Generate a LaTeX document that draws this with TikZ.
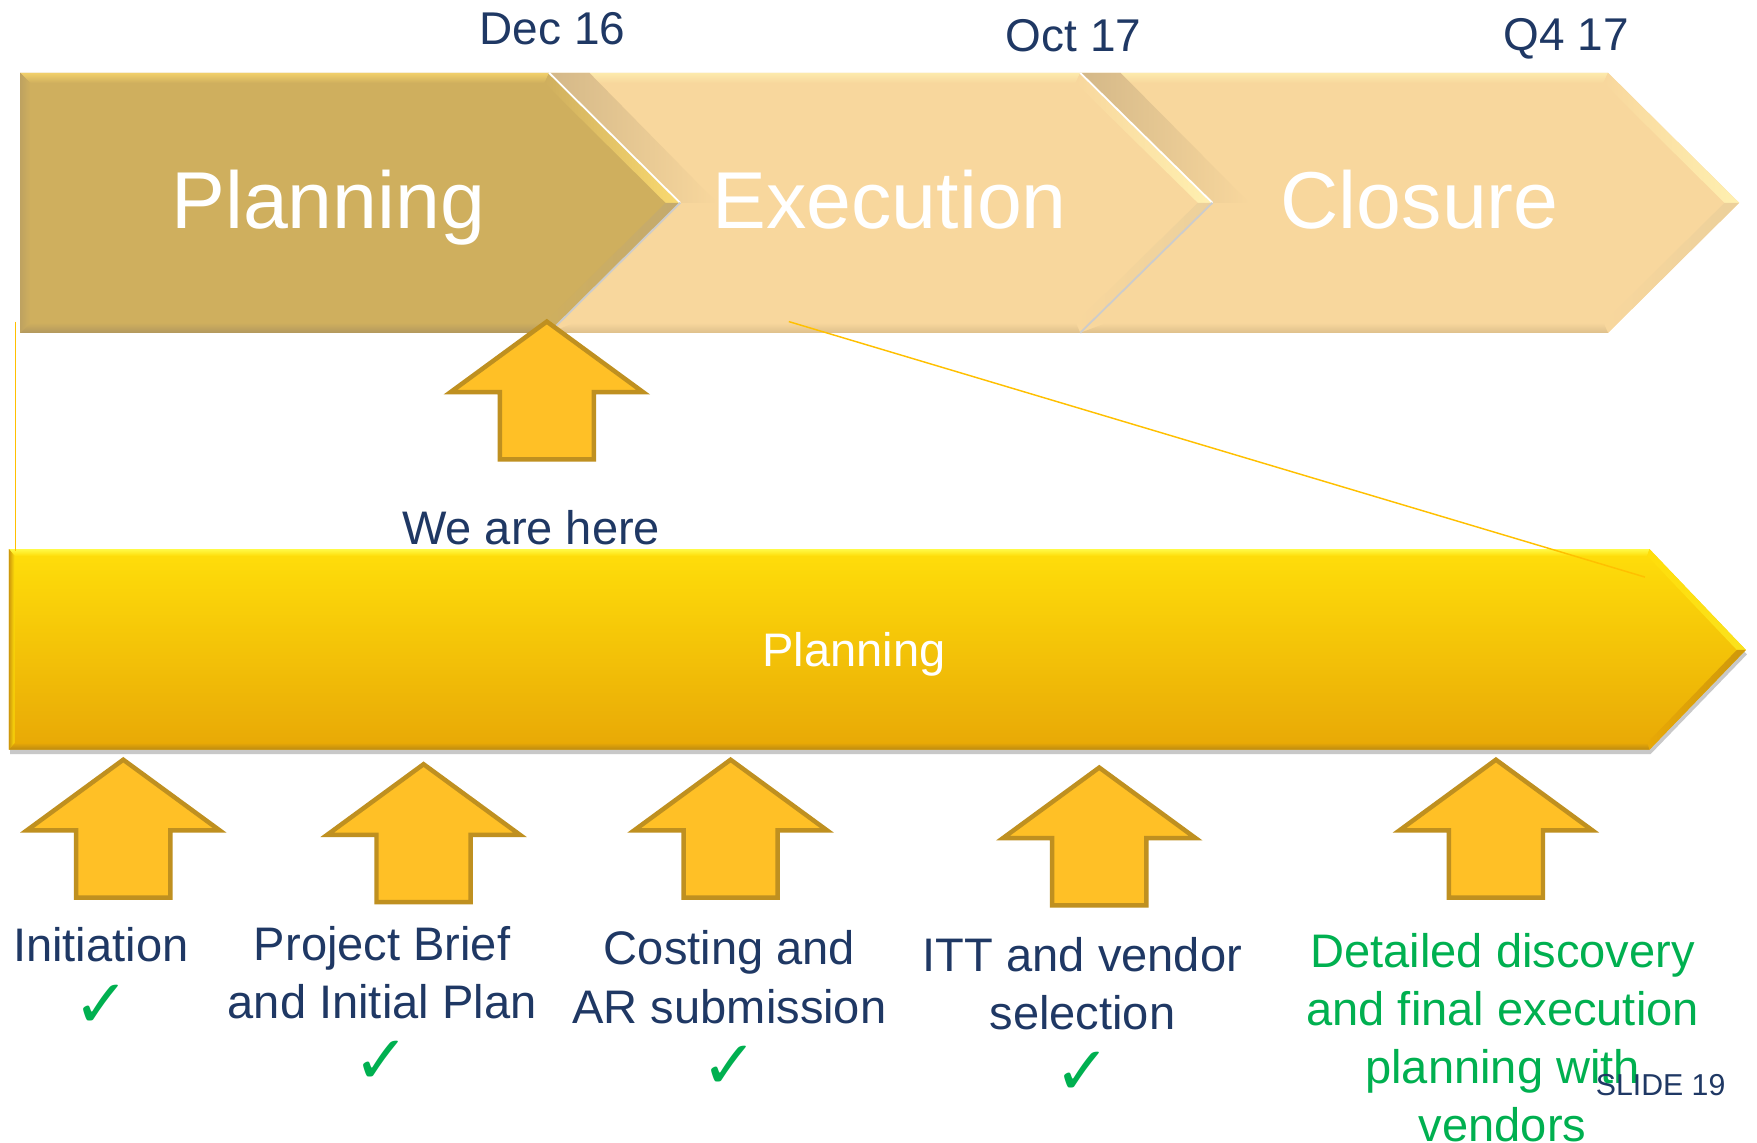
\documentclass[tikz,border=0pt]{standalone}
\usepackage{fontspec}
\setmainfont{Liberation Sans}
\newfontfamily\symfont{DejaVu Sans}
\usetikzlibrary{shadows}

\definecolor{navy}{RGB}{31,56,100}
\definecolor{okgreen}{RGB}{0,176,80}
\definecolor{tanbase}{RGB}{207,175,94}
\definecolor{tanlight}{RGB}{242,208,106}
\definecolor{tanright}{RGB}{250,218,112}
\definecolor{tanlow}{RGB}{196,170,110}
\definecolor{tandark}{RGB}{178,152,94}
\definecolor{tanleft}{RGB}{190,162,96}
\definecolor{peach}{RGB}{248,215,157}
\definecolor{peachlight}{RGB}{253,234,172}
\definecolor{peachright}{RGB}{255,240,176}
\definecolor{peachlow}{RGB}{236,208,155}
\definecolor{peachdark}{RGB}{222,192,140}
\definecolor{peachshadow}{RGB}{212,184,136}
\definecolor{arrfill}{RGB}{255,192,38}
\definecolor{arrdraw}{RGB}{191,144,32}
\definecolor{bartop}{RGB}{255,222,10}
\definecolor{barbot}{RGB}{232,168,6}
\definecolor{barlight}{RGB}{255,250,70}
\definecolor{barright}{RGB}{250,226,30}
\definecolor{barlow}{RGB}{206,152,12}
\definecolor{bardark}{RGB}{188,138,18}
\definecolor{zoomcol}{RGB}{255,192,0}

\newcommand\blockarrow[3]{%
  \draw[arrowbox] (#2,#3) -- ++(86,63) -- ++(-44,0) -- ++(0,60) -- ++(-84,0)
    -- ++(0,-60) -- ++(-44,0) -- cycle;
  \coordinate (#1) at (#2,#3);}

\begin{document}
\begin{tikzpicture}[x=1pt,y=-1pt,
  arrowbox/.style={fill=arrfill, draw=arrdraw, line width=4pt, line join=miter},
  datelbl/.style={text=navy, font=\fontsize{41}{49}\selectfont, inner sep=0pt, anchor=base},
  phase/.style={text=white, font=\fontsize{72}{80}\selectfont, inner sep=0pt, anchor=base},
  lbl/.style={text=navy, font=\fontsize{42}{52}\selectfont, inner sep=0pt, anchor=base},
  glbl/.style={lbl, text=okgreen},
  tick/.style={text=okgreen, font=\symfont\fontsize{60}{64}\selectfont, inner sep=0pt, anchor=base},
  zoomln/.style={draw=zoomcol, line width=1.3pt},
  sepw/.style={draw=white, line width=1.6pt},
  sepg/.style={draw=black!20, line width=1.6pt}
]
\useasboundingbox[fill=white] (0,0) rectangle (1568,1020);

% ---------- Closure chevron ----------
\fill[peach] (964,65) -- (1435,65) -- (1552,181) -- (1435,297) -- (964,297) -- (1082,181) -- cycle;
\shade[top color=peachlight, bottom color=peach] (964,65) -- (1435,65) -- (1431,74) -- (986,74) -- cycle;
\shade[left color=peach, right color=peachright] (1435,65) -- (1552,181) -- (1539,181) -- (1431,74) -- cycle;
\shade[left color=peach, right color=peachlow] (1552,181) -- (1435,297) -- (1431,288) -- (1539,181) -- cycle;
\shade[top color=peach, bottom color=peachdark] (1435,297) -- (964,297) -- (988,288) -- (1431,288) -- cycle;
\shade[left color=peachshadow, right color=peach] (964,65) -- (1082,181) -- (1115,181) -- (1000,65) -- cycle;

% ---------- Execution chevron ----------
\fill[peach] (490,65) -- (964,65) -- (1082,181) -- (964,297) -- (490,297) -- (607,181) -- cycle;
\shade[top color=peachlight, bottom color=peach] (490,65) -- (964,65) -- (960,74) -- (512,74) -- cycle;
\shade[left color=peach, right color=peachright] (964,65) -- (1082,181) -- (1069,181) -- (960,74) -- cycle;
\shade[left color=peach, right color=peachlow] (1082,181) -- (964,297) -- (960,288) -- (1069,181) -- cycle;
\shade[top color=peach, bottom color=peachdark] (964,297) -- (490,297) -- (513,288) -- (960,288) -- cycle;
\shade[left color=peachshadow, right color=peach] (490,65) -- (607,181) -- (640,181) -- (526,65) -- cycle;
\draw[sepw] (964,65) -- (1082,181);
\draw[sepg] (1082,181) -- (964,297);

% ---------- Planning chevron ----------
\fill[tanbase] (18,65) -- (490,65) -- (607,181) -- (490,297) -- (18,297) -- cycle;
\shade[top color=tanlight, bottom color=tanbase] (18,65) -- (490,65) -- (486,74) -- (27,74) -- cycle;
\shade[left color=tanbase, right color=tanright] (490,65) -- (607,181) -- (594,181) -- (486,74) -- cycle;
\shade[left color=tanbase, right color=tanlow] (607,181) -- (490,297) -- (486,288) -- (594,181) -- cycle;
\shade[top color=tanbase, bottom color=tandark] (490,297) -- (18,297) -- (27,288) -- (486,288) -- cycle;
\shade[left color=tanleft, right color=tanbase] (18,297) -- (18,65) -- (27,74) -- (27,288) -- cycle;
\draw[sepw] (490,65) -- (607,181);
\draw[sepg] (607,181) -- (490,297);

% phase labels
\node[phase] (phPlan) at (293,204) {Planning};
\node[phase] (phExec) at (794,204) {Execution};
\node[phase] (phClos) at (1267,204) {Closure};

% dates
\node[datelbl] (d1) at (493,40) {Dec 16};
\node[datelbl] (d2) at (958,46) {Oct 17};
\node[datelbl] (d3) at (1398,45) {Q4 17};

% ---------- We are here ----------
\blockarrow{here}{488}{287}
\node[lbl] (weHere) at (474,486) {We are here};

% ---------- bottom Planning bar ----------
\shade[top color=bartop, bottom color=barbot,
  drop shadow={shadow xshift=1pt, shadow yshift=-4pt, opacity=0.3, fill=black!70}]
  (8,490) -- (1472,490) -- (1558,580) -- (1472,669) -- (8,669) -- cycle;
\shade[top color=barlight, bottom color=bartop] (8,490) -- (1472,490) -- (1470,496) -- (13,496) -- cycle;
\shade[left color=bartop, right color=barright] (1472,490) -- (1558,580) -- (1550,580) -- (1470,496) -- cycle;
\shade[left color=barbot, right color=barlow] (1558,580) -- (1472,669) -- (1470,663) -- (1550,580) -- cycle;
\shade[top color=barbot, bottom color=bardark] (1472,669) -- (8,669) -- (13,663) -- (1470,663) -- cycle;
\shade[left color=barlow, right color=bartop] (8,669) -- (8,490) -- (13,496) -- (13,663) -- cycle;
\node[text=white, font=\fontsize{42}{50}\selectfont, inner sep=0pt, anchor=base] (barPlan) at (762,595) {Planning};

% ---------- zoom lines ----------
\coordinate (zA1) at (14,287);
\coordinate (zA2) at (14,492);
\coordinate (zB1) at (704,287);
\coordinate (zB2) at (1468,515);
\draw[zoomln] (zA1) -- (zA2);
\draw[zoomln] (zB1) -- (zB2);

% ---------- milestone arrows ----------
\blockarrow{m1}{110}{678}
\blockarrow{m2}{378}{682}
\blockarrow{m3}{652}{678}
\blockarrow{m4}{981}{685}
\blockarrow{m5}{1335}{678}

% ---------- milestone labels ----------
\node[lbl] (t1) at (90,858) {Initiation};
\node[lbl] (t2) at (341,857) {\begin{tabular}[t]{@{}c@{}}Project Brief\\and Initial Plan\end{tabular}};
\node[lbl] (t3) at (651,861) {\begin{tabular}[t]{@{}c@{}}Costing and\\AR submission\end{tabular}};
\node[lbl] (t4) at (966,867) {\begin{tabular}[t]{@{}c@{}}ITT and vendor\\selection\end{tabular}};
\node[glbl] (t5) at (1341,863) {\begin{tabular}[t]{@{}c@{}}Detailed discovery\\and final execution\\planning with\\vendors\end{tabular}};

% ticks
\node[tick] (c1) at (91,917) {✓};
\node[tick] (c2) at (341,967) {✓};
\node[tick] (c3) at (651,971) {✓};
\node[tick] (c4) at (966,977) {✓};

% slide number
\node[text=navy, font=\fontsize{27}{32}\selectfont, inner sep=0pt, anchor=base] (slide) at (1482,978) {SLIDE 19};
\end{tikzpicture}
\end{document}
